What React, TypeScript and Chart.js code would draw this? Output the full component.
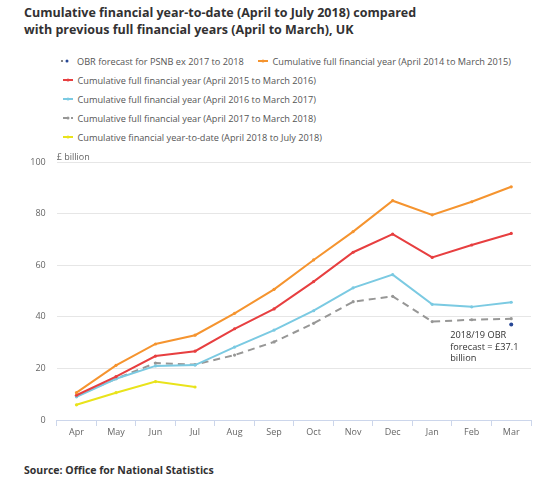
import React, { useEffect, useRef } from "react";
import { Chart, registerables } from "chart.js";

Chart.register(...registerables);

const months = ["Apr", "May", "Jun", "Jul", "Aug", "Sep", "Oct", "Nov", "Dec", "Jan", "Feb", "Mar"];
const yTicks = [0, 20, 40, 60, 80, 100];

const fy2014 = [10.6, 21.2, 29.5, 32.9, 41.4, 50.7, 62.1, 73.1, 85.1, 79.6, 84.7, 90.5];
const fy2015 = [9.6, 16.8, 24.8, 26.7, 35.4, 43.1, 53.7, 65.1, 72.1, 63.1, 67.9, 72.4];
const fy2016 = [9.0, 16.0, 21.0, 21.3, 28.3, 34.9, 42.4, 51.3, 56.4, 44.9, 43.9, 45.7];
const fy2017 = [9.3, 16.0, 22.1, 21.5, 25.2, 30.3, 37.5, 45.9, 48.0, 38.2, 38.9, 39.3];
const fy2018 = [5.9, 10.6, 14.9, 12.8, null, null, null, null, null, null, null, null];
const obrForecast = [null, null, null, null, null, null, null, null, null, null, null, 37.1];

const seriesNames = [
  "OBR forecast for PSNB ex 2017 to 2018",
  "Cumulative full financial year (April 2014 to March 2015)",
  "Cumulative full financial year (April 2015 to March 2016)",
  "Cumulative full financial year (April 2016 to March 2017)",
  "Cumulative full financial year (April 2017 to March 2018)",
  "Cumulative financial year-to-date (April 2018 to July 2018)",
];
const seriesColors = ["#274796", "#F5942F", "#E73F40", "#7BCAE2", "#979796", "#E9E31B"];

const titleText = "Cumulative financial year-to-date (April to July 2018) compared with previous full financial years (April to March), UK";
const sourceText = "Source: Office for National Statistics";
const unitLabel = "£ billion";
const annotationLines = ["2018/19 OBR", "forecast = £37.1", "billion"];

const FONT = "'Open Sans', 'Noto Sans', sans-serif";

function LegendMarker({ idx }: { idx: number }) {
  const c = seriesColors[idx];
  if (idx === 0) {
    return (
      <svg width="13" height="8" style={{ display: "block" }}>
        <circle cx="2" cy="4" r="1.1" fill="#666" />
        <circle cx="7" cy="4" r="1.5" fill={c} />
      </svg>
    );
  }
  return (
    <svg width="10" height="8" style={{ display: "block" }}>
      <line x1="0" y1="4" x2="10" y2="4" stroke={c} strokeWidth="2" strokeDasharray={idx === 4 ? "5,3" : undefined} />
      <circle cx="5" cy="4" r="1.5" fill={c} />
    </svg>
  );
}

function LegendItem({ idx, x, y }: { idx: number; x: number; y: number }) {
  return (
    <div style={{ position: "absolute", left: x, top: y - 7, height: 14, display: "flex", alignItems: "center", whiteSpace: "nowrap" }}>
      <LegendMarker idx={idx} />
      <span style={{ marginLeft: idx === 0 ? 4 : 4.5, fontFamily: FONT, fontSize: 9.2, color: "#555" }}>{seriesNames[idx]}</span>
    </div>
  );
}

export default function App() {
  const ref = useRef<HTMLCanvasElement | null>(null);

  useEffect(() => {
    if (!ref.current) return;
    const extras = {
      id: "extras",
      afterDraw(chart: any) {
        const ctx = chart.ctx;
        const area = chart.chartArea;
        ctx.save();
        ctx.font = `9px ${FONT}`;
        ctx.fillStyle = "#666";
        ctx.textAlign = "left";
        ctx.textBaseline = "middle";
        ctx.fillText(unitLabel, area.left, area.top - 5);
        const xs = chart.scales.x;
        const ys = chart.scales.y;
        const px = xs.getPixelForValue(11);
        const py = ys.getPixelForValue(obrForecast[11] as number);
        ctx.fillStyle = "#333";
        ctx.font = `9.2px ${FONT}`;
        annotationLines.forEach((t, i) => {
          ctx.fillText(t, px - 61, py + 11 + i * 11.5);
        });
        ctx.restore();
      },
    };
    const chart = new Chart(ref.current, {
      type: "line",
      data: {
        labels: months,
        datasets: [
          { label: seriesNames[0], data: obrForecast, showLine: false, borderColor: seriesColors[0], backgroundColor: seriesColors[0], pointRadius: 2, pointBorderWidth: 0 },
          { label: seriesNames[1], data: fy2014, borderColor: seriesColors[1], backgroundColor: seriesColors[1], borderWidth: 2, pointRadius: 1.6, pointBorderWidth: 0 },
          { label: seriesNames[2], data: fy2015, borderColor: seriesColors[2], backgroundColor: seriesColors[2], borderWidth: 2, pointRadius: 1.6, pointBorderWidth: 0 },
          { label: seriesNames[3], data: fy2016, borderColor: seriesColors[3], backgroundColor: seriesColors[3], borderWidth: 2, pointRadius: 1.6, pointBorderWidth: 0 },
          { label: seriesNames[4], data: fy2017, borderColor: seriesColors[4], backgroundColor: seriesColors[4], borderWidth: 2, borderDash: [7, 5], pointRadius: 1.6, pointBorderWidth: 0 },
          { label: seriesNames[5], data: fy2018, borderColor: seriesColors[5], backgroundColor: seriesColors[5], borderWidth: 2, pointRadius: 1.6, pointBorderWidth: 0, spanGaps: false },
        ],
      },
      options: {
        animation: false,
        responsive: true,
        maintainAspectRatio: false,
        layout: { padding: { top: 22.3, right: 9, bottom: 0, left: 0 } },
        plugins: { legend: { display: false }, tooltip: { enabled: false }, title: { display: false } },
        scales: {
          x: {
            offset: true,
            afterFit: (s: any) => { s.height = 30; },
            grid: { offset: true, drawOnChartArea: false, drawTicks: true, tickLength: 6, color: "#ccd6eb" },
            border: { color: "#ccd6eb", width: 1 },
            ticks: { color: "#666", font: { family: FONT, size: 9 }, padding: 1, maxRotation: 0, autoSkip: false },
          },
          y: {
            min: 0,
            max: 100,
            afterFit: (s: any) => { s.width = 56.7; },
            afterBuildTicks: (s: any) => { s.ticks = yTicks.map((v) => ({ value: v })); },
            grid: { color: "#e6e6e6", drawTicks: false },
            border: { display: false },
            ticks: { color: "#666", font: { family: FONT, size: 9 }, padding: 11 },
          },
        },
      },
      plugins: [extras],
    } as any);
    return () => chart.destroy();
  }, []);

  return (
    <div style={{ position: "relative", width: 540, height: 479, background: "#fff", overflow: "hidden" }}>
      <style>{"body{margin:0}"}</style>
      <div style={{ position: "absolute", left: 24, top: 4, width: 400, fontFamily: FONT, fontWeight: 700, fontSize: 12.5, lineHeight: "17px", color: "#323132" }}>
        {titleText}
      </div>
      <LegendItem idx={0} x={60} y={61} />
      <LegendItem idx={1} x={258} y={61} />
      <LegendItem idx={2} x={63} y={80} />
      <LegendItem idx={3} x={63} y={99} />
      <LegendItem idx={4} x={63} y={118} />
      <LegendItem idx={5} x={63} y={137} />
      <div style={{ position: "absolute", left: 0, top: 140, width: 540, height: 310 }}>
        <canvas ref={ref} />
      </div>
      <div style={{ position: "absolute", left: 24, top: 463, fontFamily: FONT, fontWeight: 700, fontSize: 10.5, color: "#323132", whiteSpace: "nowrap" }}>
        {sourceText}
      </div>
    </div>
  );
}
